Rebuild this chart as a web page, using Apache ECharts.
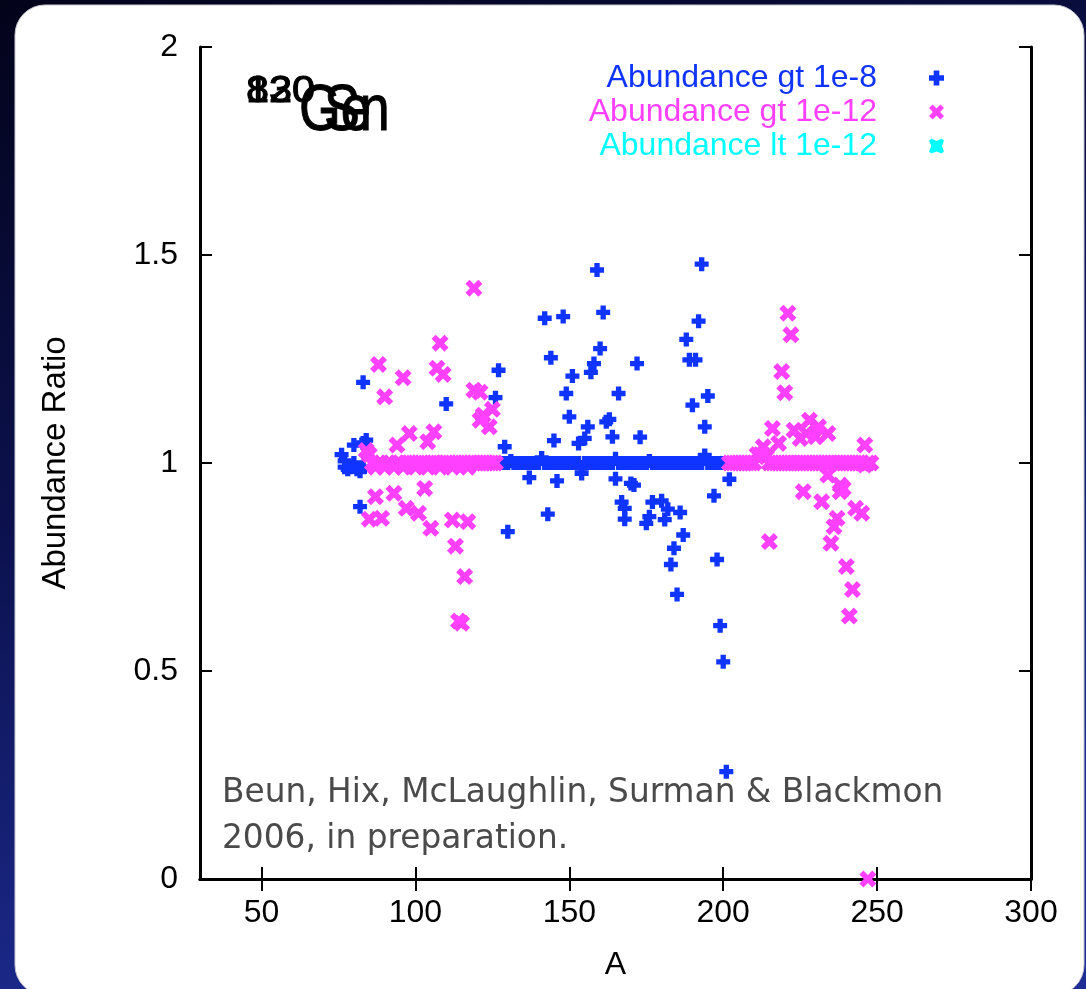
<!DOCTYPE html>
<html>
<head>
<meta charset="utf-8">
<title>Abundance Ratio</title>
<script src="https://cdn.jsdelivr.net/npm/echarts@6/dist/echarts.min.js"></script>
<style>
  html, body { margin: 0; padding: 0; }
  #chart { width: 1086px; height: 989px; }
</style>
</head>
<body>
<div id="chart"></div>
<script>
// tick values
var xTicks = [50, 100, 150, 200, 250, 300];

// Abundance gt 1e-8 : the flat run at 1 and the scattered isotopes
var blueBandA = [127, 128, 129, 130, 131, 132, 133, 134, 135, 136, 137, 138, 139, 140, 141, 142, 143, 144, 145, 146,
  147, 148, 149, 150, 151, 152, 153, 154, 155, 156, 157, 158, 159, 160, 161, 162, 163, 164, 165, 166,
  167, 168, 169, 170, 171, 172, 173, 174, 175, 176, 177, 178, 179, 180, 181, 182, 183, 184, 185, 186,
  187, 188, 189, 190, 191, 192, 193, 194, 195, 196, 197, 198, 199, 200, 201];
var blueBandR = [1, 1, 1, 1, 1.005, 1, 1, 1, 1, 1, 1, 1, 1, 1, 1.012, 1, 1, 1, 1, 1,
  1, 1, 1, 1, 1, 1, 1, 0.988, 1, 1, 1, 1, 1, 1, 1, 1, 1, 1, 1.01, 1,
  1, 1, 1, 1, 1, 1, 1, 1, 1, 1.005, 1, 1, 1, 1, 1, 1, 1, 1, 1, 1,
  1, 1, 1, 1, 1, 1, 1, 1.018, 1, 1, 1, 1, 1, 1, 1];
var blueA = [76, 77, 77, 78, 79, 80, 81, 82, 83, 80, 84, 83, 83, 82,
  110, 126, 127, 129, 130, 137, 193, 159, 142, 148, 161, 192, 188, 160, 144, 158,
  157, 172, 189, 191, 151, 195, 149, 166, 190, 150, 194, 156, 162, 163, 155, 153,
  164, 173, 145, 146, 154, 165, 170, 171, 202, 197, 143, 167, 168, 168, 177, 180,
  182, 186, 176, 175, 181, 187, 184, 183, 198, 185, 199, 200, 201];
var blueR = [1.02, 1.005, 0.99, 0.985, 0.99, 1.0, 0.985, 0.98, 0.99, 1.043, 1.055, 1.048, 1.194, 0.895,
  1.142, 1.157, 1.223, 1.039, 0.835, 0.965, 1.478, 1.464, 1.348, 1.352, 1.362, 1.341, 1.297, 1.275, 1.253, 1.239,
  1.218, 1.239, 1.248, 1.248, 1.209, 1.161, 1.167, 1.167, 1.139, 1.111, 1.087, 1.087, 1.099, 1.105, 1.059, 1.047,
  1.063, 1.062, 1.054, 0.957, 0.975, 0.962, 0.951, 0.947, 0.961, 0.921, 0.877, 0.906, 0.891, 0.865, 0.906, 0.909,
  0.889, 0.881, 0.871, 0.855, 0.864, 0.827, 0.795, 0.756, 0.768, 0.684, 0.609, 0.522, 0.258];

// Abundance gt 1e-12
var magBandA = [84, 85, 86, 87, 88, 89, 90, 91, 92, 93, 94, 95, 96, 97, 98, 99, 100, 101, 102, 103, 104, 105,
  106, 107, 108, 109, 110, 111, 112, 113, 114, 115, 116, 117, 118, 119, 120, 121, 122, 123, 124, 125, 126,
  202, 203, 204, 205, 206, 207, 208, 209, 210, 211, 212, 213, 214, 215, 216, 217, 218, 219, 220, 221, 222, 223,
  224, 225, 226, 227, 228, 229, 230, 231, 232, 233, 234, 235, 236, 237, 238, 239, 240, 241, 242, 243, 244, 245,
  246, 247, 248];
var magBandR = [1.03, 1.02, 1, 0.99, 1, 1, 0.99, 1, 1, 0.99, 1, 1, 0.99, 1, 1, 1, 0.99, 1, 1, 1, 0.99, 1,
  1, 1, 0.99, 1, 1, 1, 0.99, 1, 1, 1, 1, 0.99, 1, 1, 1, 1, 1, 1, 1, 1, 1,
  1, 1, 1, 1, 1, 1, 1, 1, 1, 1.02, 1.02, 1.02, 1.015, 1, 1, 1, 1, 1, 1, 1, 1, 1,
  1, 1, 1, 1, 1, 1, 1, 1, 1, 1, 1, 1, 1, 1, 1, 1, 1, 1, 1, 1, 1, 1,
  0.995, 1, 1];
var magA = [119, 108, 88, 107, 109, 96, 90, 119, 121, 125, 122, 124, 121, 106, 98, 104, 94, 103, 87, 93,
  97, 101, 85, 89, 105, 112, 117, 113, 116, 114, 115,
  221, 222, 219, 220, 216, 223, 225, 228, 231, 227, 230, 234, 218, 213, 246, 234, 226, 232, 238,
  238, 239, 243, 245, 237, 236, 235, 215, 240, 242, 241, 247];
var magR = [1.42, 1.288, 1.237, 1.228, 1.213, 1.205, 1.159, 1.175, 1.17, 1.129, 1.115, 1.087, 1.103, 1.075, 1.071, 1.051, 1.043, 0.939, 0.919, 0.927,
  0.891, 0.879, 0.865, 0.867, 0.843, 0.863, 0.859, 0.80, 0.727, 0.62, 0.615,
  1.36, 1.308, 1.22, 1.169, 1.083, 1.079, 1.059, 1.103, 1.087, 1.071, 1.063, 1.071, 1.047, 1.039, 1.043, 0.971, 0.931, 0.907, 0.947,
  0.931, 0.939, 0.891, 0.879, 0.867, 0.847, 0.807, 0.811, 0.751, 0.696, 0.632, 0.0];

// Abundance lt 1e-12 (nothing visible in the plot)
var cyanA = [];
var cyanR = [];

var plusPath = 'path://M3.1,0H6.9V3.1H10V6.9H6.9V10H3.1V6.9H0V3.1H3.1Z';
var crossPath = 'path://M0,2.4L2.4,0L5,2.6L7.6,0L10,2.4L7.4,5L10,7.6L7.6,10L5,7.4L2.4,10L0,7.6L2.6,5Z';
var starPath = 'path://M1.5,0L5,1.6L8.5,0L10,1.5L8.6,5L10,8.5L8.5,10L5,8.6L1.5,10L0,8.5L1.6,5L0,1.5Z';

function pairs(a, r) {
  return a.map(function (v, i) { return [v, r[i]]; });
}

var chart = echarts.init(document.getElementById('chart'));

var axisLineStyle = { color: '#000', width: 3 };
var tickStyle = { inside: true, length: 12, lineStyle: { color: '#000', width: 2 } };
var sans = 'Liberation Sans, Arial, sans-serif';

var option = {
  backgroundColor: {
    type: 'linear', x: 0, y: 0, x2: 0.3, y2: 1,
    colorStops: [{ offset: 0, color: '#03031a' }, { offset: 0.5, color: '#0c1250' }, { offset: 1, color: '#1e2d94' }]
  },
  animation: false,
  grid: { left: 200, right: 55, top: 47, bottom: 110 },
  graphic: [
    {
      type: 'rect', z: -10, silent: true,
      shape: { x: 15, y: 5, width: 1069, height: 990, r: 30 },
      style: { fill: '#fff', stroke: '#c8c8d2', lineWidth: 1 }
    },
    // superimposed 82Ge / 130Sn label
    { type: 'text', x: 246, y: 74, z: 10, scaleX: 1.15, style: { text: '82', font: '36px Liberation Sans', fill: '#000', stroke: '#000', lineWidth: 1 } },
    { type: 'text', x: 246, y: 74, z: 10, scaleX: 1.15, style: { text: '130', font: '36px Liberation Sans', fill: '#000', stroke: '#000', lineWidth: 1 } },
    { type: 'text', x: 299, y: 80, z: 10, scaleX: 0.84, style: { text: 'Ge', font: '64px Liberation Sans', fill: '#000', stroke: '#000', lineWidth: 1 } },
    { type: 'text', x: 324, y: 80, z: 10, scaleX: 0.84, style: { text: 'Sn', font: '64px Liberation Sans', fill: '#000', stroke: '#000', lineWidth: 1 } },
    {
      type: 'text', left: 222, top: 770, z: 10,
      style: {
        text: 'Beun, Hix, McLaughlin, Surman & Blackmon\n2006, in preparation.',
        font: '32.8px DejaVu Sans', lineHeight: 46, fill: '#4a4a4a'
      }
    }
  ],
  legend: {
    orient: 'vertical',
    align: 'right',
    right: 137,
    top: 56,
    itemWidth: 15,
    itemHeight: 15,
    itemGap: 0,
    selectedMode: false,
    textStyle: { fontSize: 32, fontFamily: sans, lineHeight: 34, padding: [0, 47, 0, 0] },
    data: [
      { name: 'Abundance gt 1e-8', textStyle: { color: '#1034ff' } },
      { name: 'Abundance gt 1e-12', textStyle: { color: '#ff40ff' } },
      { name: 'Abundance lt 1e-12', textStyle: { color: '#00ffff' } }
    ]
  },
  xAxis: [
    {
      type: 'value', min: 30, max: 300, position: 'bottom',
      name: 'A', nameLocation: 'middle', nameGap: 70,
      nameTextStyle: { fontSize: 32, fontFamily: sans, color: '#000' },
      axisLine: { lineStyle: axisLineStyle },
      axisTick: Object.assign({ customValues: xTicks }, tickStyle),
      axisLabel: { customValues: xTicks, fontSize: 32, fontFamily: sans, color: '#000', margin: 18 },
      splitLine: { show: false }
    },
    {
      type: 'value', min: 30, max: 300, position: 'top',
      axisLine: { lineStyle: axisLineStyle },
      axisTick: Object.assign({ customValues: xTicks }, tickStyle),
      axisLabel: { show: false },
      splitLine: { show: false }
    }
  ],
  yAxis: [
    {
      type: 'value', min: 0, max: 2, interval: 0.5, position: 'left',
      name: 'Abundance Ratio', nameLocation: 'middle', nameGap: 128, nameRotate: 90,
      nameTextStyle: { fontSize: 33, fontFamily: sans, color: '#000' },
      axisLine: { show: true, lineStyle: axisLineStyle },
      axisTick: tickStyle,
      axisLabel: { fontSize: 32, fontFamily: sans, color: '#000', margin: 22 },
      splitLine: { show: false }
    },
    {
      type: 'value', min: 0, max: 2, interval: 0.5, position: 'right',
      axisLine: { show: true, lineStyle: axisLineStyle },
      axisTick: tickStyle,
      axisLabel: { show: false },
      splitLine: { show: false }
    }
  ],
  series: [
    {
      name: 'Abundance gt 1e-8', type: 'scatter',
      symbol: plusPath, symbolSize: 14, clip: false,
      itemStyle: { color: '#1034ff', opacity: 1 },
      data: pairs(blueBandA, blueBandR).concat(pairs(blueA, blueR))
    },
    {
      name: 'Abundance gt 1e-12', type: 'scatter',
      symbol: crossPath, symbolSize: 17, clip: false,
      itemStyle: { color: '#ff40ff', opacity: 1 },
      data: pairs(magBandA, magBandR).concat(pairs(magA, magR))
    },
    {
      name: 'Abundance lt 1e-12', type: 'scatter',
      symbol: starPath, symbolSize: 15,
      itemStyle: { color: '#00ffff', opacity: 1 },
      data: pairs(cyanA, cyanR)
    }
  ]
};

chart.setOption(option);
</script>
</body>
</html>
